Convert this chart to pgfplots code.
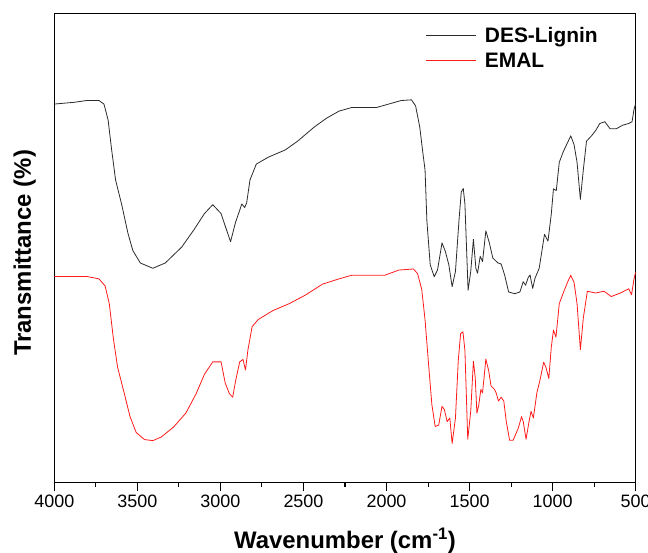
\documentclass[border=0pt]{standalone}
\usepackage{fontspec}
\setmainfont{Liberation Sans}
\usepackage{pgfplots}
\pgfplotsset{compat=1.18}
\definecolor{Lignin}{HTML}{2B2B2B}
\definecolor{Emal}{HTML}{FF1A1A}

% spectra: wavenumber (cm^-1), transmittance (arb.)
\pgfplotstableread{
w y
4000 1071
3880 1076
3806 1081
3731 1081
3701 1071
3676 1026
3656 946
3631 856
3594 786
3557 706
3527 656
3482 621
3407 606
3332 621
3233 666
3158 716
3096 761
3046 786
2996 761
2939 681
2909 736
2871 788
2854 778
2842 791
2822 856
2784 901
2710 921
2610 941
2535 966
2435 1006
2361 1031
2286 1051
2211 1061
2062 1061
1987 1071
1912 1081
1850 1083
1825 1066
1800 1006
1782 936
1768 884
1757 740
1737 616
1713 582
1693 601
1666 678
1646 654
1625 616
1605 554
1585 597
1564 740
1550 822
1538 832
1528 788
1509 544
1493 597
1477 688
1462 606
1452 592
1436 640
1422 625
1402 712
1381 678
1360 635
1329 621
1310 618
1289 587
1265 539
1228 534
1197 539
1177 568
1163 558
1147 580
1136 587
1120 549
1106 578
1081 606
1065 654
1049 702
1028 683
1008 760
995 831
978 826
960 906
936 936
911 961
891 981
871 956
853 906
833 801
815 886
796 966
766 981
741 996
716 1016
686 1021
654 1001
617 1001
579 1011
542 1016
522 1021
510 1056
500 1073
}\lignin

\pgfplotstableread{
w y
4000 583
3806 583
3731 576
3694 556
3669 506
3644 406
3619 326
3581 256
3544 186
3507 141
3457 121
3407 118
3357 128
3283 156
3208 196
3146 251
3096 306
3046 341
2996 341
2971 281
2946 251
2926 241
2909 286
2884 341
2864 348
2849 318
2834 376
2809 441
2772 461
2685 486
2585 506
2485 531
2386 561
2286 576
2211 586
2087 586
2012 586
1925 601
1838 604
1813 591
1788 546
1768 460
1747 335
1727 220
1707 158
1686 162
1666 215
1652 206
1635 172
1619 182
1605 110
1585 182
1568 345
1554 421
1540 426
1528 373
1511 122
1493 201
1477 343
1466 297
1456 196
1446 215
1432 263
1422 253
1402 349
1385 316
1371 273
1350 263
1340 253
1326 230
1310 241
1294 230
1279 172
1259 119
1238 119
1207 153
1187 186
1177 172
1160 122
1142 172
1130 201
1116 182
1095 253
1075 292
1054 340
1040 325
1023 294
1008 383
995 431
980 411
960 506
928 546
911 566
891 586
871 566
853 506
833 376
815 466
791 541
741 536
691 541
647 526
592 536
542 548
525 531
510 576
500 596
}\emal

\begin{document}
\begin{tikzpicture}
\path[use as bounding box] (-54.3bp,-70.7bp) rectangle (593.7bp,482.3bp);
\begin{axis}[at={(0,0)},anchor=south west,
  scale only axis,width=581.4bp,height=469bp,
  x dir=reverse,xmin=500,xmax=4000,ymin=0,ymax=1328,
  axis line style={line width=1.2bp,black},
  xtick={500,1000,...,4000},minor x tick num=1,ytick=\empty,
  xtick pos=bottom,tick align=outside,
  major tick length=9bp,minor tick length=4.5bp,
  tick style={line width=1.1bp,black},
  /pgf/number format/assume math mode=true,
  /pgf/number format/1000 sep={},
  tick label style={font=\fontsize{18}{20}\selectfont},
  xlabel={\textbf{Wavenumber (cm\textsuperscript{-1})}},
  ylabel={\textbf{Transmittance (\%)}},
  label style={font=\fontsize{24}{26}\selectfont},
  xlabel style={at={(axis description cs:0.5,-0.1420)},anchor=base},
  ylabel style={at={(axis description cs:-0.0401,0.489)},anchor=base},
  legend style={draw=none,fill=none,at={(axis description cs:0.6388,0.926)},
    anchor=west,font=\fontsize{21}{23}\selectfont\bfseries,
    legend cell align=left,row sep=5bp,inner sep=0pt,
    /tikz/every odd column/.append style={column sep=7bp}},
  legend image code/.code={\draw[#1] (0bp,0bp) -- (49.3bp,0bp);},
  every axis plot/.append style={line width=0.8bp,line join=round,no marks},
]
\addplot[Lignin] table[x=w,y=y] {\lignin};
\addplot[Emal] table[x=w,y=y] {\emal};
\legend{DES-Lignin,EMAL}
\end{axis}
\end{tikzpicture}
\end{document}
